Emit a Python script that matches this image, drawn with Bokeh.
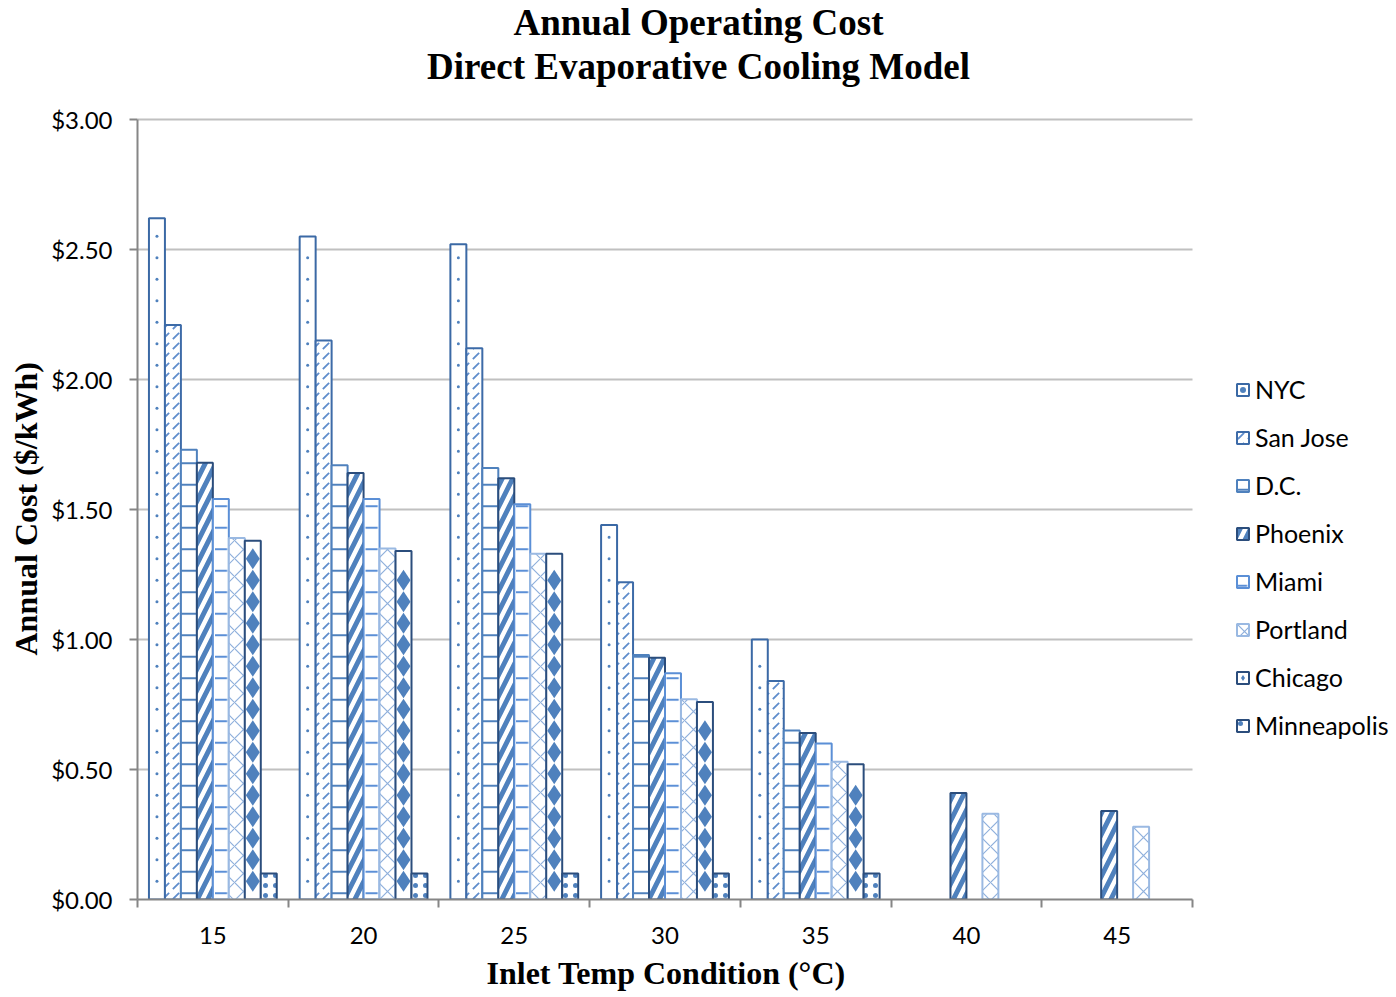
from bokeh.plotting import figure
from bokeh.models import (ColumnDataSource, FixedTicker, NumeralTickFormatter,
                          Legend, LegendItem, Label, Range1d, Title)
from bokeh.embed import file_html
from bokeh.resources import INLINE

# Inlet temperature conditions (°C)
temps = ["15", "20", "25", "30", "35", "40", "45"]

# Annual operating cost ($/kWh) per city; None = no value at that condition
nyc = [2.62, 2.55, 2.52, 1.44, 1.00, None, None]
san_jose = [2.21, 2.15, 2.12, 1.22, 0.84, None, None]
dc = [1.73, 1.67, 1.66, 0.94, 0.65, None, None]
phoenix = [1.68, 1.64, 1.62, 0.93, 0.64, 0.41, 0.34]
miami = [1.54, 1.54, 1.52, 0.87, 0.60, None, None]
portland = [1.39, 1.35, 1.33, 0.77, 0.53, 0.33, 0.28]
chicago = [1.38, 1.34, 1.33, 0.76, 0.52, None, None]
minneapolis = [0.10, 0.10, 0.10, 0.10, 0.10, None, None]

y_ticks = [0.0, 0.5, 1.0, 1.5, 2.0, 2.5, 3.0]
y_max = 3.0

# (name, values, bar style, optional marker fill drawn inside the bar)
series = [
    ("NYC", nyc, dict(line_color="#3b69a5"), ("circle", 3, "#4f81bd")),
    ("San Jose", san_jose, dict(line_color="#3d6ba8", hatch_pattern=",", hatch_color="#5f8dcc", hatch_scale=10, hatch_weight=1.8), None),
    ("D.C.", dc, dict(line_color="#4f81bd", hatch_pattern="-", hatch_color="#4f81bd", hatch_scale=21.5, hatch_weight=2), None),
    ("Phoenix", phoenix, dict(line_color="#2b4d7c", hatch_pattern="/", hatch_color="#4f81bd", hatch_scale=21, hatch_weight=5), None),
    ("Miami", miami, dict(line_color="#5b8fd6", hatch_pattern='"', hatch_color="#5b8fd6", hatch_scale=21.5, hatch_weight=2), None),
    ("Portland", portland, dict(line_color="#9ab9e2", hatch_pattern="x", hatch_color="#8fb0dc", hatch_scale=18, hatch_weight=1.2), None),
    ("Chicago", chicago, dict(line_color="#2b4d7c"), ("diamond", 21, "#4f81bd")),
    ("Minneapolis", minneapolis, dict(line_color="#2b4d7c", hatch_pattern=".", hatch_color="#4f81bd", hatch_scale=10, hatch_weight=1), None),
]

# Page geometry (pixels). The plotting frame runs to the top and right edges
# of the canvas so the heading and legend can sit inside it; the value axis
# itself spans PLOT_LEFT..PLOT_RIGHT and PLOT_TOP..PLOT_BOTTOM.
W, H = 1396, 997
PLOT_LEFT, PLOT_RIGHT = 137, 1192
PLOT_TOP, PLOT_BOTTOM = 119, 899
ppu_y = (PLOT_BOTTOM - PLOT_TOP) / y_max
ppu_x = (PLOT_RIGHT - PLOT_LEFT) / len(temps)
x_end = (W - PLOT_LEFT) / ppu_x
y_end = PLOT_BOTTOM / ppu_y
step = 21.5 / ppu_y   # vertical pitch of the in-bar marker fill

p = figure(width=W, height=H, output_backend="svg", toolbar_location=None,
           x_range=Range1d(0, x_end), y_range=Range1d(0, y_end),
           min_border_left=PLOT_LEFT, min_border_right=0,
           min_border_top=0, min_border_bottom=H - PLOT_BOTTOM)
p.outline_line_color = None
p.background_fill_color = "white"
p.border_fill_color = "white"
p.xgrid.grid_line_color = None
p.ygrid.grid_line_color = None

# Horizontal gridlines across the category span only
gy = [t for t in y_ticks if t > 0]
p.segment(x0=[0] * len(gy), x1=[len(temps)] * len(gy), y0=gy, y1=gy,
          line_color="#c0c0c0", line_width=2)

n = len(series)
bar_w = 0.106
items = []
for k, (name, vals, style, marks) in enumerate(series):
    xs, tops = [], []
    for i, v in enumerate(vals):
        if v is None:
            continue
        xs.append(i + 0.5 + (k - (n - 1) / 2) * bar_w)
        tops.append(v)
    src = ColumnDataSource(dict(x=xs, top=tops))
    r = p.vbar(x="x", top="top", bottom=0, width=bar_w, source=src,
               fill_color="white", line_width=2, **style)
    rs = [r]
    if marks is not None:
        marker, size, color = marks
        mx, my = [], []
        for x, t in zip(xs, tops):
            y = step * 0.85
            while y < t - step * 0.45:
                mx.append(x)
                my.append(y)
                y += step
        m = p.scatter(x=mx, y=my, marker=marker, size=size,
                      fill_color=color, line_color=None)
        rs.append(m)
    items.append(LegendItem(label=name, renderers=rs))

legend = Legend(items=items, location=(1235 - PLOT_LEFT, 150), orientation="vertical",
                glyph_width=15, glyph_height=15, label_height=48, spacing=0,
                padding=0, margin=0, label_standoff=5,
                label_text_font="Lato", label_text_font_size="25px",
                label_text_color="#000000",
                border_line_color=None, background_fill_alpha=0)
p.add_layout(legend, "center")

# Axes
grey = "#868686"
xa = p.xaxis[0]
xa.bounds = (0, len(temps))
xa.ticker = FixedTicker(ticks=[i + 0.5 for i in range(len(temps))],
                        minor_ticks=list(range(len(temps) + 1)))
xa.major_label_overrides = {i + 0.5: t for i, t in enumerate(temps)}
xa.major_tick_line_color = None
xa.minor_tick_in = 0
xa.minor_tick_out = 8
xa.minor_tick_line_color = grey
xa.minor_tick_line_width = 2
xa.axis_line_color = grey
xa.axis_line_width = 2
xa.major_label_text_font = "Lato"
xa.major_label_text_font_size = "24px"
xa.major_label_text_color = "#000000"
xa.major_label_standoff = 19

ya = p.yaxis[0]
ya.bounds = (0, y_max)
ya.ticker = FixedTicker(ticks=y_ticks)
ya.formatter = NumeralTickFormatter(format="$0.00")
ya.major_tick_in = 0
ya.major_tick_out = 8
ya.major_tick_line_color = grey
ya.major_tick_line_width = 2
ya.minor_tick_line_color = None
ya.axis_line_color = grey
ya.axis_line_width = 2
ya.major_label_text_font = "Lato"
ya.major_label_text_font_size = "24px"
ya.major_label_text_color = "#000000"
ya.major_label_standoff = 17

# Axis titles, centred on the value axis span rather than the whole frame
axis_font = dict(text_font="Liberation Serif", text_font_style="bold",
                 text_font_size="32px", text_color="#000000")
p.add_layout(Title(text="Inlet Temp Condition (°C)", align="left",
                   offset=486 - PLOT_LEFT, standoff=12, **axis_font), "below")
p.add_layout(Title(text="Annual Cost ($/kWh)", align="left",
                   offset=PLOT_BOTTOM - 655, standoff=9, **axis_font), "left")

# Two-line heading, centred over the page
title_cx = (698 - PLOT_LEFT) / ppu_x
for text, cy in [("Annual Operating Cost", 22), ("Direct Evaporative Cooling Model", 66)]:
    p.add_layout(Label(x=title_cx, y=(PLOT_BOTTOM - cy) / ppu_y, text=text,
                       text_align="center", text_baseline="middle",
                       text_font="Liberation Serif", text_font_style="bold",
                       text_font_size="37px", text_color="#000000"))

open("out.html", "w").write(file_html(p, INLINE))
